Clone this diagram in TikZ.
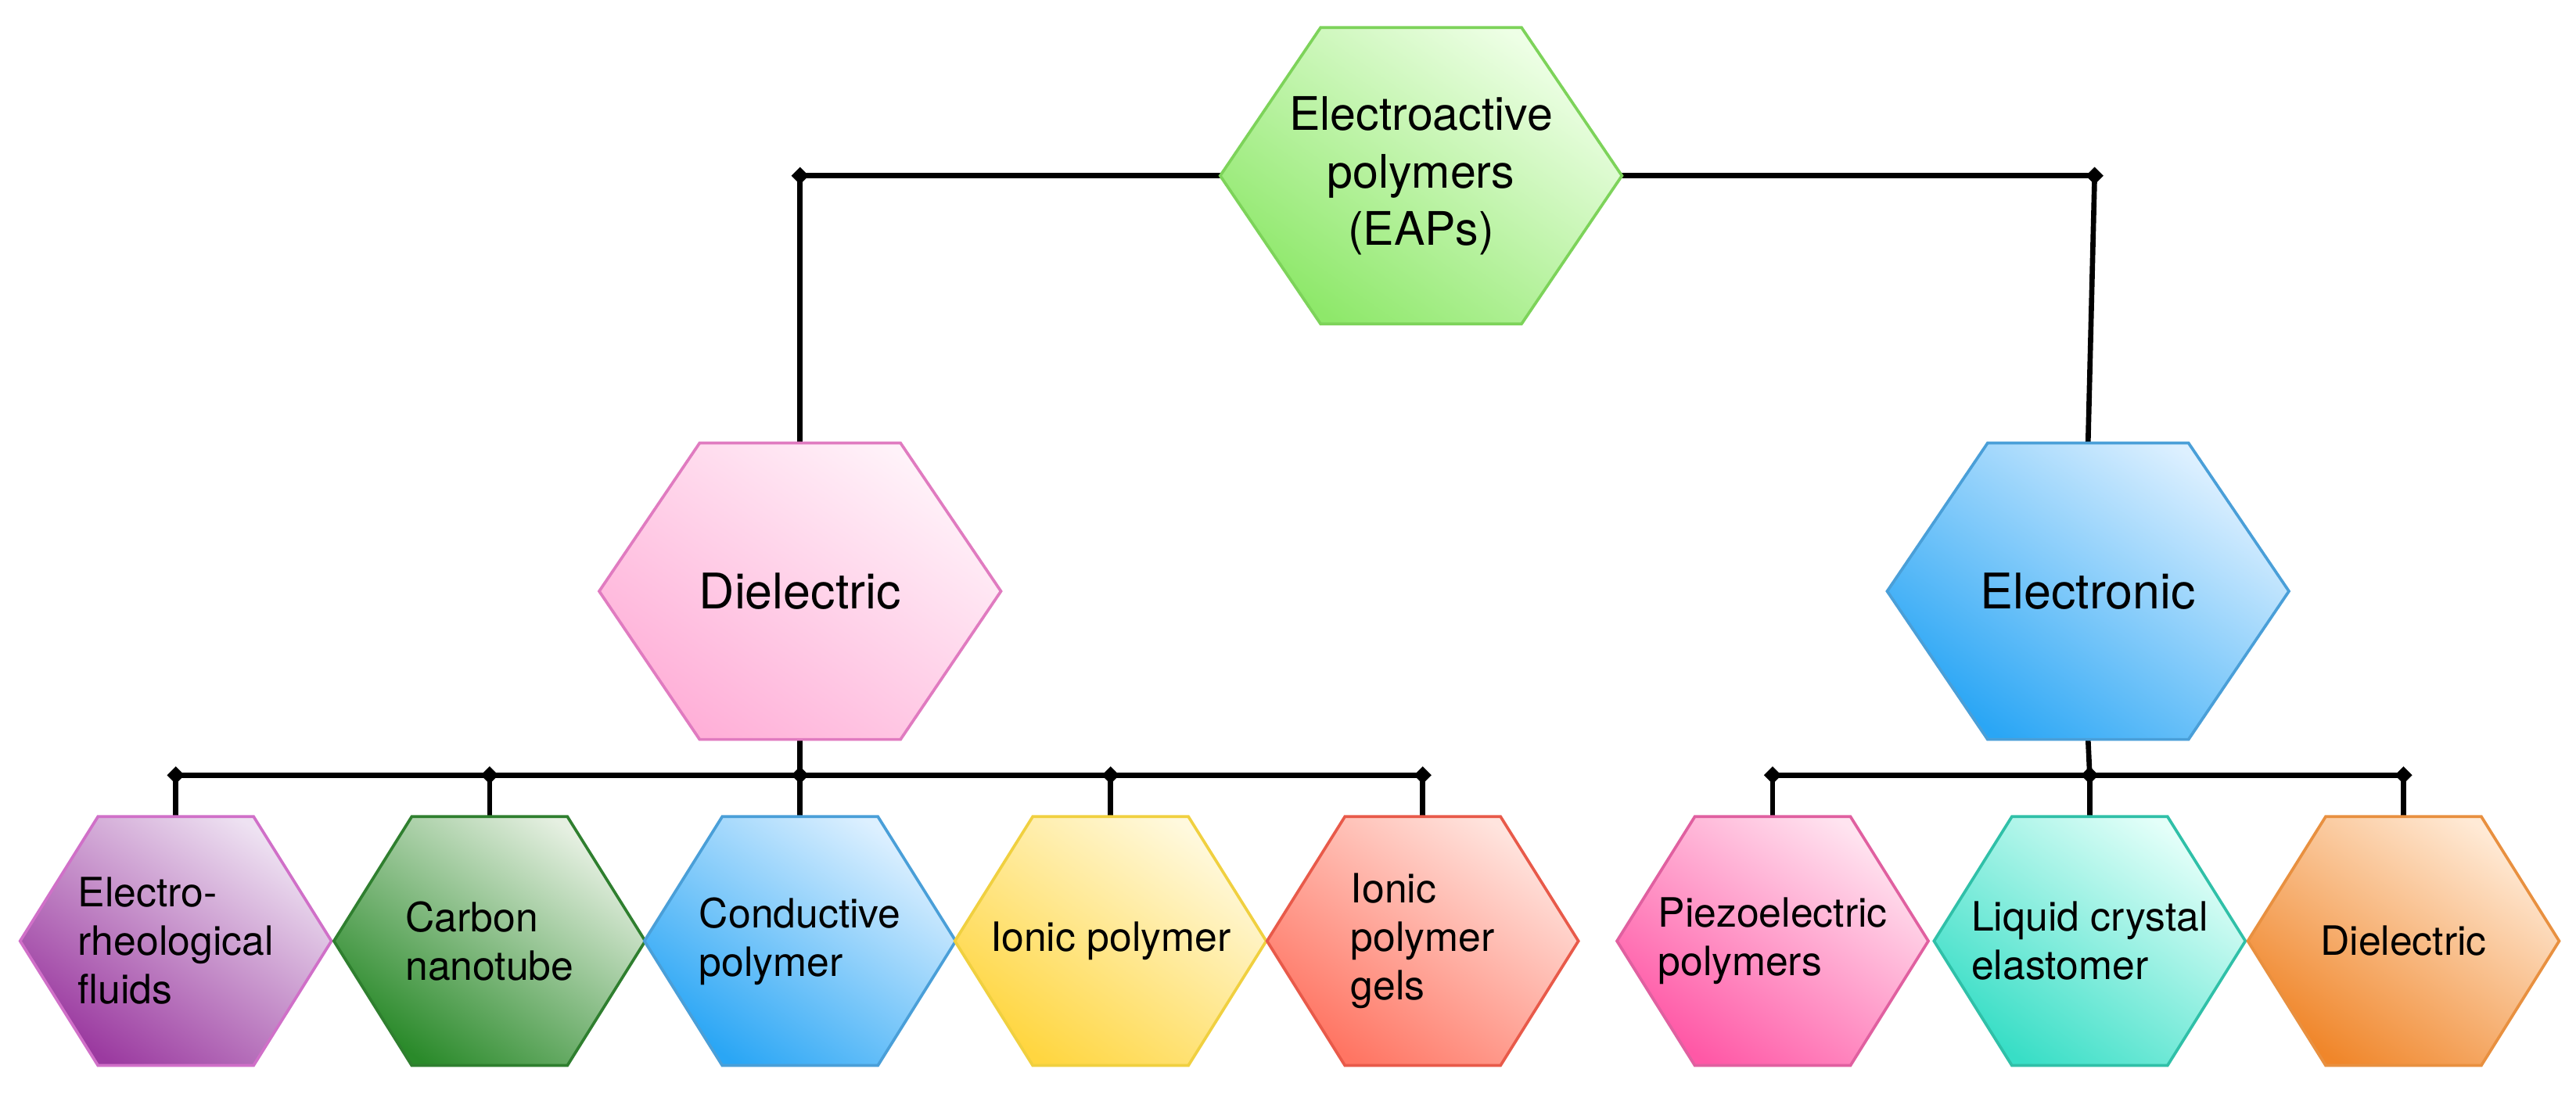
\documentclass[tikz,border=0pt]{standalone}
\usepackage{fontspec}
\setmainfont{TeX Gyre Heros}
\usetikzlibrary{shapes.geometric,calc}

\definecolor{grnD}{HTML}{8EE86A}\definecolor{grnL}{HTML}{EEFFE6}\definecolor{grnB}{HTML}{7DD35A}
\definecolor{pnkD}{HTML}{FFB0D8}\definecolor{pnkL}{HTML}{FFF2F9}\definecolor{pnkB}{HTML}{E07BC0}
\definecolor{bluD}{HTML}{2AA6F5}\definecolor{bluL}{HTML}{DDF0FF}\definecolor{bluB}{HTML}{4A9FD8}
\definecolor{purD}{HTML}{9B3AA0}\definecolor{purL}{HTML}{EEE2F2}\definecolor{purB}{HTML}{D070C8}
\definecolor{cntD}{HTML}{2A8A2A}\definecolor{cntL}{HTML}{E6F0E2}\definecolor{cntB}{HTML}{2F7F2F}
\definecolor{yelD}{HTML}{FFD640}\definecolor{yelL}{HTML}{FFF9DE}\definecolor{yelB}{HTML}{F0D040}
\definecolor{redD}{HTML}{FF7563}\definecolor{redL}{HTML}{FFE4DE}\definecolor{redB}{HTML}{E85A4A}
\definecolor{pzoD}{HTML}{FF58A6}\definecolor{pzoL}{HTML}{FFE4F0}\definecolor{pzoB}{HTML}{E060A0}
\definecolor{lcrD}{HTML}{38DEC6}\definecolor{lcrL}{HTML}{E4FFF9}\definecolor{lcrB}{HTML}{30C0A8}
\definecolor{orgD}{HTML}{F0862A}\definecolor{orgL}{HTML}{FFEAD6}\definecolor{orgB}{HTML}{E89040}

\tikzset{
  box/.style={rectangle, inner sep=0pt, align=left},
  big/.style={box, minimum width=2.43cm, minimum height=1.79cm},
  small/.style={box, minimum width=1.88cm, minimum height=1.50cm},
  lbl/.style={align=left, font=\fontsize{7}{8.4}\selectfont},
  dot/.style={diamond, fill=black, inner sep=0pt, minimum size=3.2pt},
  link/.style={line width=0.9pt}
}
% hexagon behind a named node: name, dark, light, border
\newcommand{\hexfill}[4]{%
  \shade[top color=#3, bottom color=#2, shading angle=-35, draw=#4, line width=0.5pt]
    (#1.west) -- ($(#1.north)!0.5!(#1.north west)$) -- ($(#1.north)!0.5!(#1.north east)$)
    -- (#1.east) -- ($(#1.south)!0.5!(#1.south east)$) -- ($(#1.south)!0.5!(#1.south west)$) -- cycle;}

\begin{document}
\begin{tikzpicture}[x=0.01cm, y=-0.01cm]
    \useasboundingbox (0,0) rectangle (1568,666);
    % Nodes
    \node[big] (eap) at (865,107) {};
    \node[big] (diel) at (487,360) {};
    \node[big] (elec) at (1271,360) {};
    \node[small] (erf) at (107,573) {};
    \node[small] (cnt) at (298,573) {};
    \node[small] (cp) at (487,573) {};
    \node[small] (ip) at (676,573) {};
    \node[small] (ipg) at (866,573) {};
    \node[small] (pzo) at (1079,573) {};
    \node[small] (lce) at (1272,573) {};
    \node[small] (die2) at (1463,573) {};
    % Connectors
    \node[dot] (tl) at (487,107) {};
    \node[dot] (tr) at (1275,107) {};
    \draw[link] (tl.center) -- (eap.west);
    \draw[link] (eap.east) -- (tr.center);
    \draw[link] (tl.center) -- (diel.north);
    \draw[link] (tr.center) -- (elec.north);
    \foreach \n in {erf,cnt,cp,ip,ipg,pzo,lce,die2} {
      \node[dot] (b\n) at (\n.north |- 0,472) {};
      \draw[link] (b\n.center) -- (\n.north);
    }
    \draw[link] (berf.center) -- (bipg.center);
    \draw[link] (diel.south) -- (bcp.center);
    \draw[link] (bpzo.center) -- (bdie2.center);
    \draw[link] (elec.south) -- (blce.center);
    % Hexagons
    \hexfill{eap}{grnD}{grnL}{grnB}
    \hexfill{diel}{pnkD}{pnkL}{pnkB}
    \hexfill{elec}{bluD}{bluL}{bluB}
    \hexfill{erf}{purD}{purL}{purB}
    \hexfill{cnt}{cntD}{cntL}{cntB}
    \hexfill{cp}{bluD}{bluL}{bluB}
    \hexfill{ip}{yelD}{yelL}{yelB}
    \hexfill{ipg}{redD}{redL}{redB}
    \hexfill{pzo}{pzoD}{pzoL}{pzoB}
    \hexfill{lce}{lcrD}{lcrL}{lcrB}
    \hexfill{die2}{orgD}{orgL}{orgB}
    % Labels
    \node[align=center, font=\fontsize{8}{10}\selectfont] at (eap) {Electroactive\\polymers\\(EAPs)};
    \node[font=\fontsize{8.5}{10}\selectfont] at (diel) {Dielectric};
    \node[font=\fontsize{8.5}{10}\selectfont] at (elec) {Electronic};
    \node[lbl] at (erf) {Electro-\\rheological\\fluids};
    \node[lbl] at (cnt) {Carbon\\nanotube};
    \node[lbl] at (cp) {Conductive\\polymer};
    \node[lbl] at (ip) {Ionic polymer};
    \node[lbl] at (ipg) {Ionic\\polymer\\gels};
    \node[lbl] at (pzo) {Piezoelectric\\polymers};
    \node[lbl] at (lce) {Liquid crystal\\elastomer};
    \node[lbl] at (die2) {Dielectric};
\end{tikzpicture}
\end{document}
